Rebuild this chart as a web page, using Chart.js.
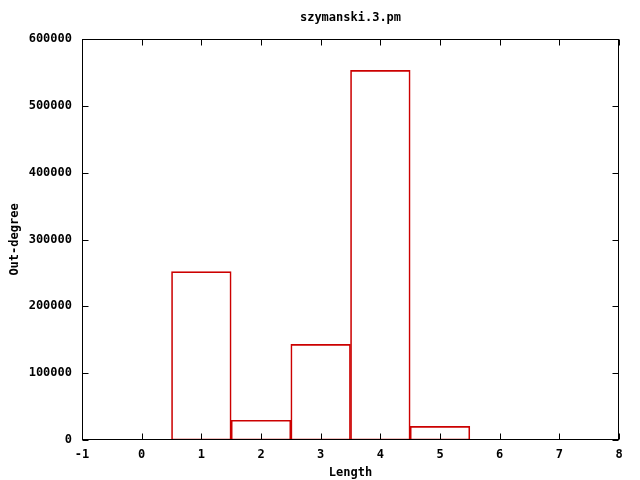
<!DOCTYPE html>
<html>
<head>
<meta charset="utf-8">
<script src="https://cdn.jsdelivr.net/npm/chart.js@4/dist/chart.umd.min.js"></script>
<style>
  body { margin: 0; background: #fff; }
  canvas { display: block; }
</style>
</head>
<body>
<canvas id="chart" width="640" height="480"></canvas>
<script>
// histogram data
const lengths = [1, 2, 3, 4, 5];
const outDegree = [252000, 29500, 143000, 553000, 20500];
const xTicks = [-1, 0, 1, 2, 3, 4, 5, 6, 7, 8];
const yTicks = [0, 100000, 200000, 300000, 400000, 500000, 600000];

const FONT = { family: "'DejaVu Sans Mono', monospace", size: 12, weight: "bold" };

// gnuplot-style frame with inward ticks on all four sides
const frameTicks = {
  id: "frameTicks",
  afterDatasetsDraw(chart) {
    const { ctx, chartArea: a, scales } = chart;
    const L = Math.round(a.left) + 0.5, R = Math.round(a.right) - 0.5;
    const T = Math.round(a.top) + 0.5, B = Math.round(a.bottom) - 0.5;
    ctx.save();
    ctx.strokeStyle = "#000";
    ctx.lineWidth = 1;
    ctx.strokeRect(L, T, R - L, B - T);
    ctx.beginPath();
    xTicks.forEach((v) => {
      const px = Math.round(scales.x.getPixelForValue(v)) + 0.5;
      ctx.moveTo(px, B); ctx.lineTo(px, B - 6);
      ctx.moveTo(px, T); ctx.lineTo(px, T + 6);
    });
    yTicks.forEach((v) => {
      const py = Math.round(scales.y.getPixelForValue(v)) + 0.5;
      ctx.moveTo(L, py); ctx.lineTo(L + 6, py);
      ctx.moveTo(R, py); ctx.lineTo(R - 6, py);
    });
    ctx.stroke();
    ctx.restore();
  },
};

new Chart(document.getElementById("chart"), {
  type: "bar",
  data: {
    datasets: [{
      data: lengths.map((x, i) => ({ x: x, y: outDegree[i] })),
      backgroundColor: "rgba(0,0,0,0)",
      borderColor: "#cc0000",
      borderWidth: 1,
      borderSkipped: false,
      barPercentage: 1,
      categoryPercentage: 1,
    }],
  },
  options: {
    responsive: false,
    animation: false,
    layout: { padding: { left: 0, right: 21, top: 0, bottom: 0 } },
    plugins: {
      legend: { display: false },
      tooltip: { enabled: false },
      title: {
        display: true,
        text: "szymanski.3.pm",
        fullSize: false,
        color: "#000",
        font: { ...FONT, lineHeight: 1 },
        padding: { top: 12, bottom: 15 },
      },
    },
    scales: {
      x: {
        type: "linear",
        min: -1,
        max: 8,
        offset: false,
        grid: { display: false, drawTicks: false },
        border: { display: false },
        afterBuildTicks: (s) => { s.ticks = xTicks.map((v) => ({ value: v })); },
        afterFit: (s) => { s.height = 40; },
        ticks: { color: "#000", font: FONT, padding: 8, maxRotation: 0 },
        title: { display: true, text: "Length", color: "#000", font: FONT, padding: { top: 4, bottom: 0 } },
      },
      y: {
        min: 0,
        max: 600000,
        grid: { display: false, drawTicks: false },
        border: { display: false },
        afterBuildTicks: (s) => { s.ticks = yTicks.map((v) => ({ value: v })); },
        afterFit: (s) => { s.width = 82; },
        ticks: { color: "#000", font: FONT, padding: 10, callback: (v) => String(v) },
        title: { display: true, text: "Out-degree", color: "#000", font: FONT, padding: { top: 8, bottom: 0 } },
      },
    },
  },
  plugins: [frameTicks],
});
</script>
</body>
</html>
